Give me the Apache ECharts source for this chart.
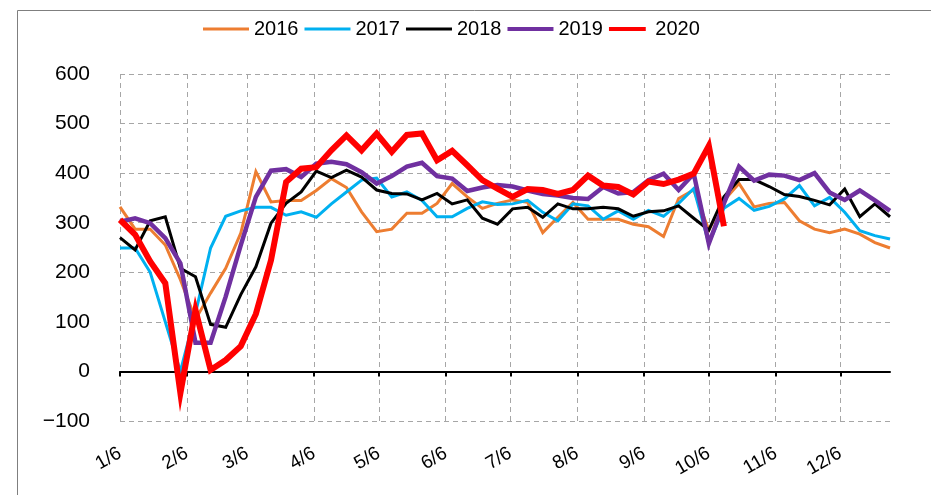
<!DOCTYPE html>
<html><head><meta charset="utf-8">
<script src="https://cdn.jsdelivr.net/npm/echarts@6/dist/echarts.min.js"></script>
<style>html,body{margin:0;padding:0;background:#fff}#c{width:931px;height:495px}</style>
</head><body><div id="c"></div>
<script>
// Tick labels (dates, month/day) and their day offsets from 1/6
var monthLabels = ['1/6','2/6','3/6','4/6','5/6','6/6','7/6','8/6','9/6','10/6','11/6','12/6'];
var monthDayOffsets = [0,31,59,90,120,151,181,212,243,273,304,334];
var lastDay = 357;          // last weekly observation (12/29)
var weekStep = 7;           // weekly data
var seriesNames = ['2016','2017','2018','2019','2020'];
var y2016 = [332,287,287,255,185,105,158,208,279,403,342,345,345,365,389,371,322,282,287,319,319,339,379,352,329,339,346,341,280,311,341,307,307,307,297,292,272,349,366,285,345,379,332,339,341,304,287,280,287,277,260,249];
var y2017 = [249,249,200,100,0,117,249,313,324,331,331,315,322,311,338,362,386,390,352,362,345,312,312,329,342,337,338,345,321,304,338,334,307,324,307,325,313,339,369,258,329,349,325,333,348,375,334,351,321,284,274,267];
var y2018 = [270,245,304,312,208,191,95,89,155,211,299,339,362,404,391,406,392,366,359,358,346,359,338,346,309,297,328,331,311,338,328,328,331,328,313,322,324,334,309,285,352,387,387,373,357,353,345,336,368,312,338,312];
var y2019 = [302,309,299,269,218,58,58,151,255,352,405,408,392,419,423,418,402,379,394,413,421,394,389,364,371,376,373,365,358,355,350,348,372,359,362,386,399,366,399,258,339,413,385,397,395,386,400,361,346,365,345,324];
var y2020 = [306,276,222,178,-44,124,3,23,51,116,224,382,409,412,446,476,446,480,443,477,480,426,445,416,386,369,352,368,366,358,366,395,375,372,357,383,378,387,399,455,293];

var dayCats = [];
for (var d = 0; d <= lastDay; d++) {
  var i = monthDayOffsets.indexOf(d);
  dayCats.push(i >= 0 ? monthLabels[i] : 'd' + d);
}
function isMonth(idx){ return monthDayOffsets.indexOf(idx) >= 0; }
function toPts(arr){ return arr.map(function(v,k){ return [k*weekStep, v]; }); }

var colors = ['#ED7D31','#00B0F0','#000000','#7030A0','#FF0000'];
var widths = [3,3,3,4.5,6];
var legendH = [3,3,3,4,5];
var allData = [y2016,y2017,y2018,y2019,y2020];
var FONT = 'Liberation Sans, Arial, sans-serif';

var chart = echarts.init(document.getElementById('c'), null, {renderer:'canvas'});
chart.setOption({
  animation:false,
  backgroundColor:'#fff',
  graphic:[{type:'rect', shape:{x:17.5,y:10.5,width:930,height:500}, style:{fill:'none', stroke:'#7f7f7f', lineWidth:1}, silent:true, z:-10}],
  legend:{
    top:14, left:198, itemWidth:46, itemHeight:4, itemGap:6,
    textStyle:{fontFamily:'Liberation Sans Narrow, Liberation Sans, Arial, sans-serif', fontSize:20, color:'#000'},
    data: seriesNames.map(function(n,i){ return {name:n, icon:'path://M0,0 L46,0 L46,'+legendH[i]+' L0,'+legendH[i]+' Z'}; })
  },
  grid:{left:120, right:41, top:74, bottom:74},
  xAxis:[{
    type:'category', data:dayCats, boundaryGap:false,
    axisLine:{onZero:true, lineStyle:{color:'#000', width:2}},
    axisTick:{show:true, interval:function(i){return isMonth(i);}, length:5, lineStyle:{color:'#000', width:2}},
    axisLabel:{show:false},
    splitLine:{show:true, interval:function(i){return isMonth(i);}, lineStyle:{color:'#a6a6a6', type:[5,4], width:1}}
  },{
    type:'category', data:dayCats, boundaryGap:false, position:'bottom',
    axisLine:{show:false, onZero:false}, axisTick:{show:false}, splitLine:{show:false},
    axisLabel:{show:true, interval:function(i){return isMonth(i);}, rotate:30, margin:31,
      fontFamily:FONT, fontSize:19, color:'#000'}
  }],
  yAxis:{
    type:'value', min:-100, max:600, interval:100,
    axisLine:{show:false}, axisTick:{show:false},
    axisLabel:{margin:30, fontFamily:FONT, fontSize:21, color:'#000',
      formatter:function(v){ return String(v).replace('-', '\u2212'); }},
    splitLine:{show:true, lineStyle:{color:'#a6a6a6', type:[5,4], width:1}}
  },
  series: seriesNames.map(function(n,i){
    return {name:n, type:'line', xAxisIndex:0, data:toPts(allData[i]), symbol:'none', showSymbol:false,
      color:colors[i], lineStyle:{color:colors[i], width:widths[i], join:'miter'}, z:2+i};
  })
});
</script></body></html>
